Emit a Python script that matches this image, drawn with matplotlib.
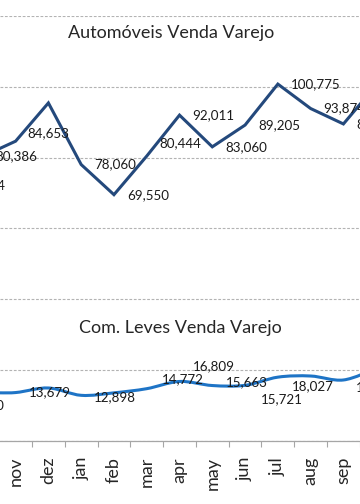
#monthly retail sales: automoveis vs comerciais leves, one shared value axis
import numpy as np
import matplotlib.pyplot as plt
from matplotlib.path import Path
from matplotlib.patches import PathPatch

plt.rcParams['font.family'] = ['Lato', 'DejaVu Sans']

# categories (first two and last one sit outside the visible window)
months = ["sep", "oct", "nov", "dez", "jan", "feb", "mar", "apr", "may", "jun", "jul", "aug", "sep", "oct"]

auto = [72294, 80386, 84653, 95450, 78060, 69550, 80444, 92011, 83060, 89205, 100775, 93874, 89520, 100500]
leves = [10170, 13300, 13679, 14970, 12898, 13600, 14772, 16809, 15663, 15721, 18027, 18350, 17230, 20500]

# which points carry a data label
auto_show = [True] * 3 + [False] + [True] * 10
leves_show = [True, False, True, False, True, False, True, True, True, True, True, False, True, False]

title_auto = "Automóveis Venda Varejo"
title_leves = "Com. Leves Venda Varejo"

# label nudges in pixels (dx, dy), positive dy = up
auto_nudge = {2: (12, 8), 6: (13, 13)}
leves_nudge = {4: (13, -2), 6: (15, 10), 7: (13, 15), 8: (14, 3), 9: (16, -14), 10: (14, -9), 12: (12, -7)}

x = np.arange(len(months)) - 2


def smooth_path(xs, ys):
    pts = np.column_stack([xs, ys]).astype(float)
    verts = [pts[0]]
    codes = [Path.MOVETO]
    for i in range(len(pts) - 1):
        p0 = pts[i - 1] if i > 0 else pts[i]
        p1, p2 = pts[i], pts[i + 1]
        p3 = pts[i + 2] if i + 2 < len(pts) else pts[i + 1]
        verts += [p1 + (p2 - p0) / 6, p2 - (p3 - p1) / 6, p2]
        codes += [Path.CURVE4] * 3
    return Path(verts, codes)


fig = plt.figure(figsize=(3.6, 5.04), dpi=100)
ax = fig.add_axes([0, 63 / 504, 1, 425 / 504])

ax.plot(x, auto, color='#24497c', lw=2.2, solid_joinstyle='miter')
ax.add_patch(PathPatch(smooth_path(x, leves), facecolor='none', edgecolor='#1e74c6', lw=2.2))

for vals, show, nudge in [(auto, auto_show, auto_nudge), (leves, leves_show, leves_nudge)]:
    for i, (xi, v) in enumerate(zip(x, vals)):
        if not show[i]:
            continue
        dx, dy = nudge.get(i, (13, 0))
        ax.annotate(f"{v:,}", (xi, v), xytext=(dx, dy), textcoords='offset pixels',
                    ha='left', va='center', fontsize=9.6, color='#1a1a1a',
                    annotation_clip=False)

ax.set_yticks(np.arange(0, 120001, 20000))
ax.yaxis.grid(True, linestyle=(0, (2.5, 1.5)), color='#b3b3b3', lw=0.8)
ax.set_axisbelow(True)
ax.tick_params(axis='y', length=0, labelleft=False)

ax.set_xticks(x)
ax.set_xticklabels(months, rotation=90, fontsize=13, color='#262626')
ax.set_xticks(np.arange(-2.5, 12, 1), minor=True)
ax.tick_params(axis='x', which='major', length=0, pad=11.5)
ax.tick_params(axis='x', which='minor', length=4.3, color='#a6a6a6', width=0.8, direction='out')

# limits last, set_xticks widens the view
ax.set_xlim(-0.476, 10.506)
ax.set_ylim(0, 120000)

for side in ['top', 'left', 'right']:
    ax.spines[side].set_visible(False)
ax.spines['bottom'].set_color('#a6a6a6')
ax.spines['bottom'].set_linewidth(0.9)

fig.text(171 / 360, 1 - 38 / 504, title_auto, ha='center', va='baseline', fontsize=13, color='#262626')
fig.text(180 / 360, 1 - 333 / 504, title_leves, ha='center', va='baseline', fontsize=13, color='#262626')

fig.savefig('out.png', dpi=100)
